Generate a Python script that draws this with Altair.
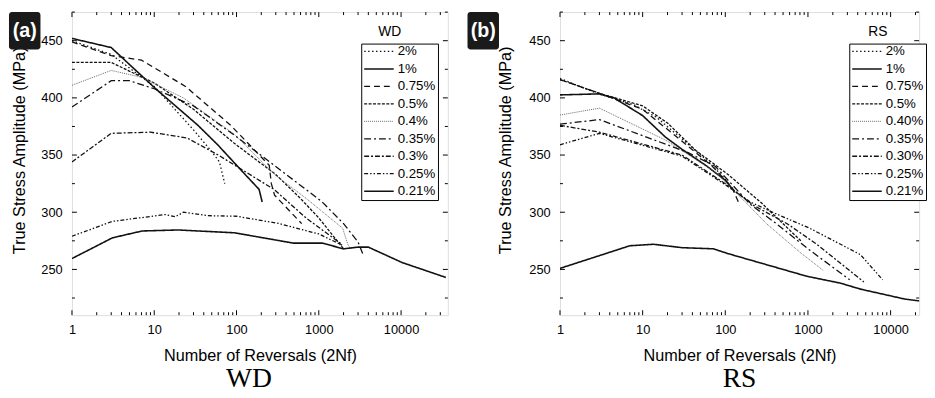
import altair as alt
import pandas as pd

# ---------------- data (reversals 2Nf, true stress amplitude MPa) ----------------
WD_LABELS = ["2%", "1%", "0.75%", "0.5%", "0.4%", "0.35%", "0.3%", "0.25%", "0.21%"]
RS_LABELS = ["2%", "1%", "0.75%", "0.5%", "0.40%", "0.35%", "0.30%", "0.25%", "0.21%"]

WD_2 = [(1, 450), (3, 438), (10, 410), (30, 372), (50, 353), (62, 344), (72, 325)]
WD_1 = [(1, 452), (3, 444), (10.4, 408), (34, 376), (59, 359), (120, 335), (188, 320), (205, 309)]
WD_075 = [(1, 449), (3, 437), (7, 433), (24, 410), (85, 376), (250, 341), (265, 325), (290, 315), (620, 290)]
WD_05 = [(1, 431), (3, 431), (10, 413), (30, 390), (95, 360), (300, 333), (600, 312), (1000, 295), (2000, 268)]
WD_04 = [(1, 411), (3, 424), (7, 418), (22.6, 400), (95, 368), (290, 333), (705, 312), (1950, 286), (2250, 272), (2450, 268)]
WD_035 = [(1, 392), (3, 415), (5, 415), (10, 408), (30, 393), (100, 366), (300, 340), (1100, 309), (2000, 290), (3000, 274), (3500, 262)]
WD_03 = [(1, 344), (3, 369), (9, 370), (25, 365), (60, 350), (112, 338), (285, 320), (700, 295), (1900, 272)]
WD_025 = [(1, 279), (3.1, 292), (13.7, 298), (18, 296), (22.6, 300), (45, 297), (100, 296.5), (335, 290), (1000, 281), (1950, 271)]
WD_021 = [(1, 259.5), (3.1, 277.6), (7.1, 283.6), (19.6, 284.5), (95, 282), (490, 273), (1100, 273), (2000, 268), (3000, 269.5), (4000, 269.5), (10300, 256), (35000, 243)]

RS_2 = [(1, 417), (2.8, 404), (7.8, 394), (14.7, 383), (30, 364), (63, 344), (100, 329), (120, 320)]
RS_1 = [(1, 402.6), (3, 403.5), (4.5, 400), (10, 384.5), (19, 365.5), (30, 355), (58, 341), (100, 328), (130, 318)]
RS_075 = [(1, 416), (3, 404), (10, 390), (30, 362), (70, 340), (120, 322), (150, 306)]
RS_05 = [(1, 416), (3, 404), (10, 393), (20, 378), (44, 354), (108, 333), (275, 308), (820, 275)]
RS_040 = [(1, 385), (3, 391), (19, 363), (76, 335), (180, 308), (315, 290), (800, 265), (1540, 249)]
RS_035 = [(1, 377), (3, 381), (36, 352), (76, 340), (200, 307), (415, 290), (1000, 268), (3200, 241)]
RS_030 = [(1, 376), (3, 370), (30, 350), (100, 325), (220, 306), (560, 290), (1280, 272), (4750, 239)]
RS_025 = [(1, 359), (3, 369), (30, 349), (100, 324), (200, 309), (400, 299), (1050, 286), (4300, 263), (8000, 241)]
RS_021 = [(1, 250.9), (7, 270.7), (13.5, 272), (30, 269), (72, 268), (108, 263.8), (970, 244), (2470, 238), (4300, 232.8), (15000, 224), (27600, 221.6)]

WD_SERIES = [WD_2, WD_1, WD_075, WD_05, WD_04, WD_035, WD_03, WD_025, WD_021]
RS_SERIES = [RS_2, RS_1, RS_075, RS_05, RS_040, RS_035, RS_030, RS_025, RS_021]

X_MAJOR = [1, 10, 100, 1000, 10000]
X_MINOR = [m * 10 ** e for e in range(0, 5) for m in range(2, 10)]
Y_MAJOR = [250, 300, 350, 400, 450]
Y_MINOR = [225, 275, 325, 375, 425, 475]

# ---------------- styles ----------------
DASHES = [[1.5, 2.5], [1, 0], [6, 4], [3, 1.5], [1, 1], [7, 3, 2, 3], [5, 2, 2, 2], [4, 2, 1.5, 2, 1.5, 2], [1, 0]]
WIDTHS = [1.3, 1.6, 1.3, 1.3, 1.0, 1.3, 1.3, 1.3, 1.6]
COLORS = ["#111111", "#111111", "#111111", "#111111", "#666666", "#111111", "#111111", "#111111", "#111111"]
FONT = "Liberation Sans"
H = 308
XTITLE = "Number of Reversals (2Nf)"
YTITLE = "True Stress Amplitude (MPa)"


def panel(series, labels, xmax, tag, tagx, leg_title, caption, width, cap_dx, ytitle_x):
    rows = []
    for lab, pts in zip(labels, series):
        for n, s in pts:
            rows.append({"strain": lab, "N": n, "S": s})
    df = pd.DataFrame(rows)
    xs = alt.Scale(type="log", domain=[1, xmax], nice=False)
    ys = alt.Scale(domain=[210, 475], nice=False, zero=False)

    common = dict(domain=False, grid=False, ticks=False, tickSize=0,
                  labelColor="black", titleColor="black", labelFont=FONT, titleFont=FONT,
                  titleFontWeight="normal", labelOverlap=False, labelFontSize=13)
    x_axis = alt.Axis(values=[v for v in X_MAJOR if v <= xmax], format="d", labelPadding=9,
                      labelFlush=False, titleFontSize=16.5, titlePadding=11, **common)
    y_axis = alt.Axis(values=Y_MAJOR, labelPadding=10, titleFontSize=16.5,
                      titleX=ytitle_x, titleY=140, titleBaseline="middle", titleAngle=270, **common)

    leg = alt.Legend(title=None, orient="none", legendX=294, legendY=32, symbolType="stroke",
                     symbolSize=900, clipHeight=12, rowPadding=3.75, padding=2, labelOffset=3,
                     strokeColor="black", fillColor="white", labelFont=FONT, labelFontSize=13.5,
                     labelColor="black")

    lines = alt.Chart(df).mark_line(clip=True).encode(
        x=alt.X("N:Q", scale=xs, axis=x_axis, title=XTITLE),
        y=alt.Y("S:Q", scale=ys, axis=y_axis, title=YTITLE),
        strokeDash=alt.StrokeDash("strain:N", scale=alt.Scale(domain=labels, range=DASHES), legend=leg),
        strokeWidth=alt.StrokeWidth("strain:N", scale=alt.Scale(type="ordinal", domain=labels, range=WIDTHS), legend=leg),
        color=alt.Color("strain:N", scale=alt.Scale(domain=labels, range=COLORS), legend=leg),
    )

    # inward tick marks on all four sides (Origin style)
    tick_layers = []
    xmaj = pd.DataFrame({"v": [v for v in X_MAJOR if v <= xmax]})
    xmin = pd.DataFrame({"v": [v for v in X_MINOR if v <= xmax]})
    for tdf, ln in ((xmaj, 5), (xmin, 3)):
        for y0, y1 in ((H, H - ln), (0, ln)):
            tick_layers.append(alt.Chart(tdf).mark_rule(color="black", strokeWidth=1).encode(
                x=alt.X("v:Q", scale=xs, axis=x_axis, title=XTITLE),
                y=alt.value(y0), y2=alt.value(y1)))
    ymaj = pd.DataFrame({"v": Y_MAJOR})
    ymin = pd.DataFrame({"v": Y_MINOR})
    for tdf, ln in ((ymaj, 5), (ymin, 3)):
        for x0, x1 in ((0, ln), (width, width - ln)):
            tick_layers.append(alt.Chart(tdf).mark_rule(color="black", strokeWidth=1).encode(
                y=alt.Y("v:Q", scale=ys, axis=y_axis, title=YTITLE),
                x=alt.value(x0), x2=alt.value(x1)))

    tagdf = pd.DataFrame({"t": [tag]})
    box = alt.Chart(tagdf).mark_rect(color="#1a1a1a", cornerRadius=3).encode(
        x=alt.value(tagx), x2=alt.value(tagx + 32), y=alt.value(0), y2=alt.value(38))
    tagtxt = alt.Chart(tagdf).mark_text(color="white", fontSize=20, fontWeight="bold", font=FONT).encode(
        text="t:N", x=alt.value(tagx + 16), y=alt.value(19))
    ltdf = pd.DataFrame({"t": [leg_title]})
    ltitle = alt.Chart(ltdf).mark_text(fontSize=14, font=FONT, color="black").encode(
        text="t:N", x=alt.value(323), y=alt.value(20))

    return alt.layer(lines, *tick_layers, box, tagtxt, ltitle).properties(
        width=width, height=H,
        title=alt.TitleParams(caption, orient="bottom", font="Liberation Serif", fontSize=28,
                              fontWeight="normal", color="black", offset=2, frame="group", dx=cap_dx),
    )


left = panel(WD_SERIES, WD_LABELS, 37000, "(a)", -64, "WD", "WD", 382, -11, -53.5)
right = panel(RS_SERIES, RS_LABELS, 22140, "(b)", -94, "RS", "RS", 365, 0, -55)

chart = alt.hconcat(left, right, spacing=18).resolve_scale(
    color="independent", strokeDash="independent", strokeWidth="independent",
    x="independent", y="independent"
).resolve_legend(
    color="independent", strokeDash="independent", strokeWidth="independent"
).properties(padding=0).configure_view(stroke="black", strokeWidth=1.2).configure(font=FONT)

chart.save("out.html", embed_options={"renderer": "svg", "actions": False})
